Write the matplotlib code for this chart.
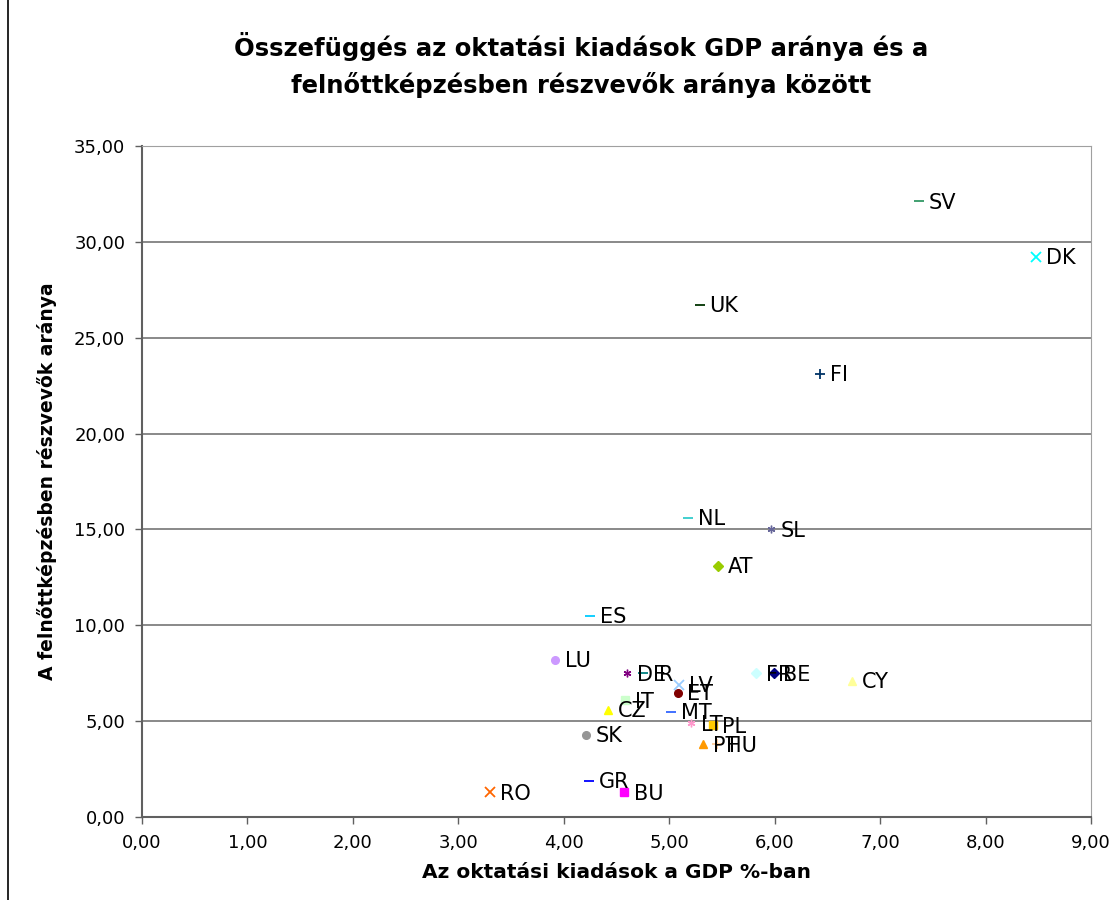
import matplotlib
matplotlib.use("Agg")
import matplotlib.pyplot as plt
from matplotlib.ticker import FuncFormatter, MultipleLocator
from matplotlib.patches import Rectangle

plt.rcParams['font.family'] = ['DejaVu Sans']

# országkódok és értékek
countries = ['SV', 'DK', 'UK', 'FI', 'NL', 'SL', 'AT', 'ES', 'LU', 'DE', 'IR', 'LV', 'ET',
             'IT', 'CZ', 'MT', 'LT', 'PL', 'PT', 'HU', 'SK', 'GR', 'BU', 'RO', 'FR', 'BE', 'CY']
gdp_share = [7.37, 8.48, 5.29, 6.43, 5.18, 5.96, 5.46, 4.25, 3.92, 4.60, 4.75, 5.09, 5.08,
             4.58, 4.42, 5.02, 5.21, 5.41, 5.32, 5.45, 4.21, 4.24, 4.57, 3.30, 5.82, 5.99, 6.73]
adult_learning = [32.1, 29.2, 26.7, 23.1, 15.6, 15.0, 13.1, 10.5, 8.2, 7.5, 7.5, 6.9, 6.5,
                  6.1, 5.6, 5.5, 4.9, 4.8, 3.8, 3.8, 4.3, 1.9, 1.3, 1.3, 7.5, 7.5, 7.1]
colors = ['#339966', '#00FFFF', '#003300', '#003366', '#33CCCC', '#666699', '#99CC00',
          '#00CCFF', '#CC99FF', '#800080', '#008080', '#99CCFF', '#800000', '#CCFFCC',
          '#FFFF00', '#3366FF', '#FF99CC', '#FFCC00', '#FF9900', '#FFCC99', '#969696',
          '#0000FF', '#FF00FF', '#FF6600', '#CCFFFF', '#000080', '#FFFF99']
markers = ['_', 'x', '_', '+', '_', (6, 2, 0), 'D', '_', 'o', (6, 2, 0), '_', 'x', 'o',
           's', '^', '_', (6, 2, 0), 's', '^', '+', 'o', '_', 's', 'x', 'D', 'D', '^']

fig = plt.figure(figsize=(11.18, 9), dpi=100)
ax = fig.add_axes([0.127, 0.092, 0.849, 0.746])

for c, x, y, col, m in zip(countries, gdp_share, adult_learning, colors, markers):
    size = 6.5 if m in ('_', '+', 'x') else 5.5
    if m == 'D':
        size = 5
    ax.plot(x, y, linestyle='none', marker=m, color=col, markersize=size,
            markeredgewidth=1.3 if m in ('_', '+', 'x') else 1)
    ax.annotate(c, (x, y), xytext=(7, -1), textcoords='offset points',
                fontsize=15, va='center', ha='left')

ax.set_xlim(0, 9)
ax.set_ylim(0, 35)
ax.xaxis.set_major_locator(MultipleLocator(1))
ax.yaxis.set_major_locator(MultipleLocator(5))
fmt = FuncFormatter(lambda v, p: f"{v:.2f}".replace('.', ','))
ax.xaxis.set_major_formatter(fmt)
ax.yaxis.set_major_formatter(fmt)
ax.tick_params(direction='out', length=5, width=1, color='#606060', labelsize=13, pad=7)
ax.grid(axis='y', color='#808080', linewidth=1.3)
ax.set_axisbelow(True)
for s in ('top', 'right'):
    ax.spines[s].set_color('#A0A0A0')
for s in ('left', 'bottom'):
    ax.spines[s].set_color('#606060')
    ax.spines[s].set_linewidth(1.5)

ax.set_xlabel('Az oktatási kiadások a GDP %-ban', fontsize=14.5, fontweight='bold', labelpad=8)
ax.set_ylabel('A felnőttképzésben részvevők aránya', fontsize=13.5, fontweight='bold', labelpad=12)
fig.text(0.52, 0.928, 'Összefüggés az oktatási kiadások GDP aránya és a\nfelnőttképzésben részvevők aránya között',
         ha='center', va='center', fontsize=17.5, fontweight='bold', linespacing=1.55)

fig.patches.append(Rectangle((0.007, -0.01), 1.2, 1.2, transform=fig.transFigure,
                             fill=False, edgecolor='black', linewidth=1.2))

fig.savefig('out.png', dpi=100)
